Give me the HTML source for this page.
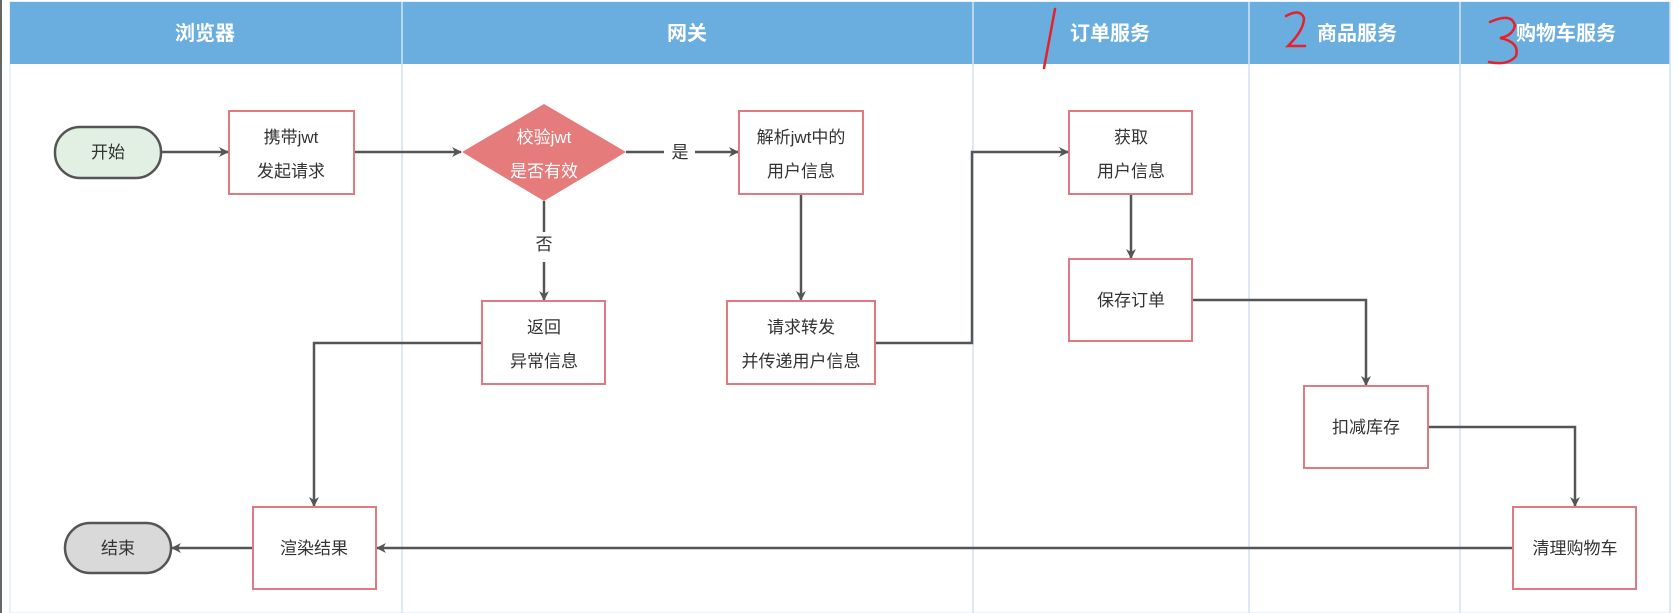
<!DOCTYPE html>
<html><head><meta charset="utf-8"><style>
html,body{margin:0;padding:0;background:#fff;}
svg{display:block;}
text{font-family:"Liberation Sans","Noto Sans CJK SC",sans-serif;}
</style></head><body>
<svg width="1679" height="613" viewBox="0 0 1679 613" xmlns="http://www.w3.org/2000/svg">
<defs>
<marker id="a" markerWidth="10" markerHeight="10" refX="9" refY="5" orient="auto" markerUnits="userSpaceOnUse">
<path d="M0,0 L10,5 L0,10 L3,5 z" fill="#555"/></marker>
</defs>
<rect x="0" y="0" width="2" height="613" fill="#666"/>
<rect x="10" y="2" width="1660" height="611" fill="#fff" stroke="#d6e6f2"/>
<rect x="10" y="2" width="1660" height="62" fill="#6aaee0"/>
<g stroke="#d2e4f2" stroke-width="1.5">
<line x1="402" y1="2" x2="402" y2="613"/>
<line x1="973" y1="2" x2="973" y2="613"/>
<line x1="1249" y1="2" x2="1249" y2="613"/>
<line x1="1460" y1="2" x2="1460" y2="613"/>
<line x1="1670" y1="2" x2="1670" y2="613"/>
</g>
<g fill="#fff" font-size="20" font-weight="bold" text-anchor="middle">
<text x="205" y="40">浏览器</text>
<text x="687" y="40">网关</text>
<text x="1110" y="40">订单服务</text>
<text x="1357" y="40">商品服务</text>
<text x="1566" y="40">购物车服务</text>
</g>
<g fill="none" stroke="#e8202a" stroke-width="2.5" stroke-linecap="round">
<path d="M1055,9 L1044,68"/>
<path d="M1286,16 Q1300,8 1304,18 Q1304,30 1288,46 L1305,46"/>
<path d="M1490,22 Q1512,12 1515,26 Q1512,36 1500,38 Q1520,42 1516,56 Q1508,66 1489,62"/>
</g>
<!-- connectors -->
<g fill="none" stroke="#555" stroke-width="2.5">
<line x1="161" y1="152" x2="228" y2="152" marker-end="url(#a)"/>
<line x1="354" y1="152" x2="461" y2="152" marker-end="url(#a)"/>
<line x1="626" y1="152" x2="664" y2="152"/>
<line x1="695" y1="152" x2="738" y2="152" marker-end="url(#a)"/>
<line x1="544" y1="201" x2="544" y2="232"/>
<line x1="544" y1="262" x2="544" y2="300" marker-end="url(#a)"/>
<line x1="801" y1="194" x2="801" y2="300" marker-end="url(#a)"/>
<polyline points="482,343 314,343 314,506" marker-end="url(#a)"/>
<polyline points="875,343 972,343 972,152 1068,152" marker-end="url(#a)"/>
<line x1="1131" y1="194" x2="1131" y2="258" marker-end="url(#a)"/>
<polyline points="1192,300 1366,300 1366,385" marker-end="url(#a)"/>
<polyline points="1428,427 1575,427 1575,506" marker-end="url(#a)"/>
<line x1="1513" y1="548" x2="377" y2="548" marker-end="url(#a)"/>
<line x1="253" y1="548" x2="172" y2="548" marker-end="url(#a)"/>
</g>
<!-- nodes -->
<rect x="55" y="127" width="106" height="51" rx="25" fill="#e2f0e3" stroke="#555" stroke-width="2.5"/>
<rect x="65" y="523" width="106" height="50" rx="25" fill="#d9d9d9" stroke="#555" stroke-width="2.5"/>
<g fill="#fff" stroke="#e07a80" stroke-width="2">
<rect x="229" y="111" width="125" height="83"/>
<rect x="739" y="111" width="124" height="83"/>
<rect x="482" y="301" width="123" height="83"/>
<rect x="727" y="301" width="148" height="83"/>
<rect x="253" y="507" width="123" height="82"/>
<rect x="1069" y="111" width="123" height="83"/>
<rect x="1069" y="259" width="123" height="82"/>
<rect x="1304" y="386" width="124" height="82"/>
<rect x="1513" y="507" width="123" height="82"/>
</g>
<polygon points="544,104 626,152 544,201 462,152" fill="#e57b7b"/>
<g font-size="17" fill="#333" text-anchor="middle">
<text x="108" y="158">开始</text>
<text x="118" y="554">结束</text>
<text x="291" y="143">携带jwt</text>
<text x="291" y="177">发起请求</text>
<text x="544" y="143" fill="#fff">校验jwt</text>
<text x="544" y="177" fill="#fff">是否有效</text>
<text x="680" y="158">是</text>
<text x="544" y="250">否</text>
<text x="801" y="143">解析jwt中的</text>
<text x="801" y="177">用户信息</text>
<text x="544" y="333">返回</text>
<text x="544" y="367">异常信息</text>
<text x="801" y="333">请求转发</text>
<text x="801" y="367">并传递用户信息</text>
<text x="314" y="554">渲染结果</text>
<text x="1131" y="143">获取</text>
<text x="1131" y="177">用户信息</text>
<text x="1131" y="306">保存订单</text>
<text x="1366" y="433">扣减库存</text>
<text x="1575" y="554">清理购物车</text>
</g>
</svg>
</body></html>
